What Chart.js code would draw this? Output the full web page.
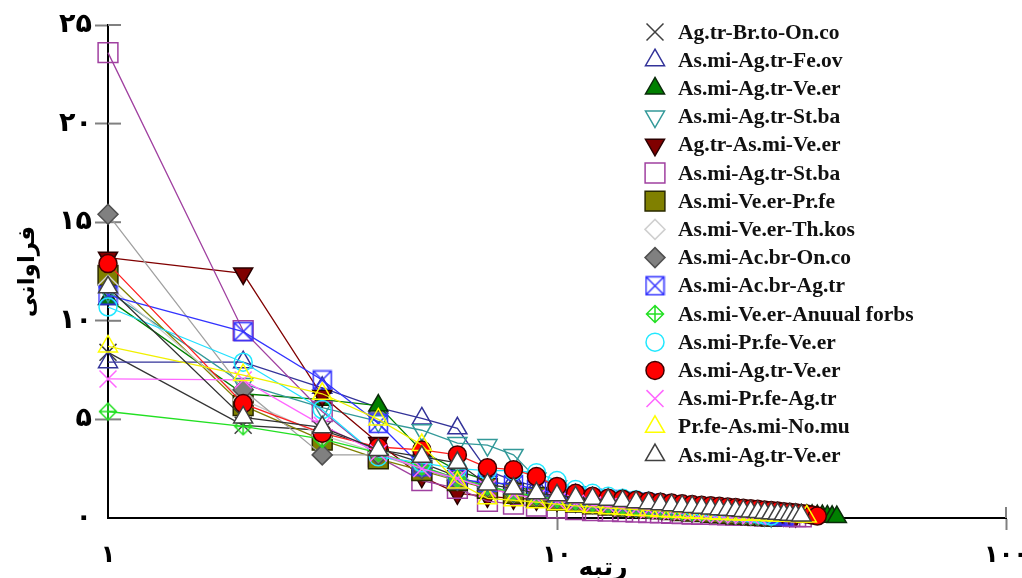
<!DOCTYPE html>
<html>
<head>
<meta charset="utf-8">
<script src="https://cdn.jsdelivr.net/npm/chart.js@4.4.1/dist/chart.umd.min.js"></script>
<style>
    html, body { margin: 0; padding: 0; background: #fff; }
    #wrap { width: 1022px; height: 578px; position: relative; }
</style>
</head>
<body>
<div id="wrap"><canvas id="rankChart"></canvas></div>
<script>
// series names, in legend order
const seriesNames = [
    'Ag.tr-Br.to-On.co',
    'As.mi-Ag.tr-Fe.ov',
    'As.mi-Ag.tr-Ve.er',
    'As.mi-Ag.tr-St.ba',
    'Ag.tr-As.mi-Ve.er',
    'As.mi-Ag.tr-St.ba',
    'As.mi-Ve.er-Pr.fe',
    'As.mi-Ve.er-Th.kos',
    'As.mi-Ac.br-On.co',
    'As.mi-Ac.br-Ag.tr',
    'As.mi-Ve.er-Anuual forbs',
    'As.mi-Pr.fe-Ve.er',
    'As.mi-Ag.tr-Ve.er',
    'As.mi-Pr.fe-Ag.tr',
    'Pr.fe-As.mi-No.mu',
    'As.mi-Ag.tr-Ve.er'
];

// abundance by rank (rank 1, 2, 3 ...)
const blackX = [8.4, 4.7, 4.45, 3.5, 2.8, 2.1, 1.6, 1.3, 1.1, 0.95, 0.85, 0.75, 0.68, 0.6, 0.55, 0.5, 0.45, 0.4, 0.36, 0.32, 0.28, 0.25, 0.22, 0.2, 0.18, 0.15, 0.12, 0.1];
const navyTri = [7.9, 7.9, 6.6, 5.6, 5.05, 4.55, 2.4, 1.9, 1.6, 1.35, 1.15, 1.0, 0.9, 0.82, 0.75, 0.68, 0.62, 0.56, 0.5, 0.45, 0.4, 0.36, 0.32, 0.28, 0.25, 0.22, 0.19, 0.16, 0.13, 0.1];
const greenTri = [11.1, 6.3, 6.0, 5.7, 3.4, 2.4, 1.9, 1.6, 1.35, 1.15, 1.0, 0.9, 0.82, 0.75, 0.7, 0.65, 0.6, 0.56, 0.52, 0.48, 0.45, 0.42, 0.39, 0.36, 0.33, 0.31, 0.29, 0.27, 0.25, 0.23, 0.21, 0.19, 0.17, 0.15, 0.13, 0.12, 0.11, 0.1, 0.1, 0.08, 0.06, 0.05];
const tealInv = [11.5, 6.8, 5.6, 4.9, 4.45, 3.8, 3.7, 3.2, 2.0, 1.6, 1.3, 1.1, 0.95, 0.85, 0.78, 0.7, 0.64, 0.58, 0.52, 0.47, 0.42, 0.38, 0.34, 0.3, 0.26, 0.23, 0.2, 0.17, 0.14, 0.1];
const darkRedInv = [13.2, 12.4, 6.2, 3.8, 2.1, 1.25, 1.1, 1.0, 0.95, 0.9, 0.85, 0.8, 0.76, 0.72, 0.68, 0.64, 0.6, 0.56, 0.52, 0.48, 0.45, 0.42, 0.39, 0.36, 0.33, 0.3, 0.27, 0.24, 0.21, 0.18, 0.16, 0.14, 0.12, 0.1];
const purpleSq = [23.6, 9.5, 5.4, 3.1, 1.9, 1.5, 0.85, 0.7, 0.6, 0.5, 0.42, 0.38, 0.35, 0.32, 0.3, 0.28, 0.26, 0.24, 0.22, 0.2, 0.19, 0.18, 0.17, 0.16, 0.15, 0.14, 0.13, 0.12, 0.11, 0.1, 0.1, 0.09, 0.08, 0.07, 0.06];
const oliveSq = [12.3, 5.7, 3.95, 3.0, 2.4, 1.9, 1.5, 1.25, 1.05, 0.9, 0.8, 0.72, 0.65, 0.6, 0.55, 0.5, 0.46, 0.42, 0.38, 0.35, 0.32, 0.29, 0.26, 0.23, 0.2, 0.18, 0.16, 0.14, 0.12, 0.1];
const lightDiamond = [11.8, 6.0, 4.2, 3.3, 2.6, 2.0, 1.6, 1.3, 1.1, 0.95, 0.85, 0.75, 0.68, 0.62, 0.56, 0.5, 0.46, 0.42, 0.38, 0.34, 0.3, 0.27, 0.24, 0.21, 0.19, 0.17, 0.15, 0.13, 0.11, 0.1];
const grayDiamond = [15.4, 6.5, 3.2, 3.2, 2.5, 1.9, 1.6, 1.3, 1.1, 0.95, 0.85, 0.76, 0.68, 0.62, 0.56, 0.5, 0.45, 0.41, 0.37, 0.33, 0.3, 0.27, 0.24, 0.21, 0.19, 0.17, 0.15, 0.13, 0.11, 0.1];
const blueBoxX = [11.3, 9.45, 7.0, 4.8, 2.6, 1.95, 1.8, 1.7, 1.45, 1.25, 1.1, 1.0, 0.92, 0.85, 0.8, 0.75, 0.7, 0.65, 0.6, 0.55, 0.5, 0.46, 0.42, 0.38, 0.34, 0.3, 0.27, 0.24, 0.2, 0.17, 0.14, 0.1];
const greenDiamondPlus = [5.4, 4.65, 4.0, 3.3, 2.6, 2.0, 1.6, 1.3, 1.1, 0.95, 0.85, 0.75, 0.67, 0.6, 0.54, 0.48, 0.43, 0.39, 0.35, 0.31, 0.28, 0.25, 0.22, 0.19, 0.16, 0.14, 0.12, 0.1];
const cyanCircle = [10.7, 7.9, 5.5, 3.1, 2.8, 2.5, 2.4, 2.4, 2.3, 1.9, 1.45, 1.25, 1.1, 1.0, 0.92, 0.85, 0.78, 0.72, 0.66, 0.6, 0.55, 0.5, 0.45, 0.4, 0.35, 0.3, 0.25, 0.2, 0.15, 0.1];
const redCircle = [12.9, 5.8, 4.3, 3.6, 3.45, 3.2, 2.55, 2.45, 2.1, 1.6, 1.25, 1.1, 1.0, 0.95, 0.9, 0.85, 0.8, 0.76, 0.72, 0.68, 0.65, 0.62, 0.59, 0.56, 0.53, 0.5, 0.47, 0.44, 0.41, 0.38, 0.35, 0.32, 0.29, 0.26, 0.23, 0.2, 0.15, 0.1];
const magentaX = [7.05, 7.0, 4.7, 3.3, 2.5, 2.0, 1.5, 1.2, 1.0, 0.85, 0.75, 0.66, 0.58, 0.52, 0.46, 0.41, 0.37, 0.33, 0.3, 0.27, 0.24, 0.21, 0.19, 0.17, 0.15, 0.13, 0.11, 0.1];
const yellowTri = [8.7, 7.25, 6.3, 5.0, 3.7, 1.8, 1.0, 0.9, 0.8, 0.7, 0.62, 0.56, 0.5, 0.46, 0.42, 0.39, 0.36, 0.33, 0.3, 0.28, 0.26, 0.24, 0.22, 0.2, 0.19, 0.18, 0.17, 0.16, 0.15, 0.14, 0.13, 0.12, 0.11, 0.1, 0.09, 0.08];
const whiteTri = [11.7, 5.1, 4.6, 3.45, 3.1, 2.8, 1.7, 1.5, 1.25, 1.15, 1.05, 0.98, 0.92, 0.86, 0.8, 0.75, 0.7, 0.65, 0.6, 0.56, 0.52, 0.48, 0.45, 0.42, 0.39, 0.36, 0.33, 0.3, 0.27, 0.24, 0.21, 0.19, 0.17, 0.15, 0.13];

const seriesValues = [blackX, navyTri, greenTri, tealInv, darkRedInv, purpleSq, oliveSq, lightDiamond,
    grayDiamond, blueBoxX, greenDiamondPlus, cyanCircle, redCircle, magentaX, yellowTri, whiteTri];

const yTicks = [0, 5, 10, 15, 20, 25];
const xTicks = [1, 10, 100];

const persianDigits = '۰۱۲۳۴۵۶۷۸۹';
function toPersian(n) {
    return String(n).replace(/[0-9]/g, d => persianDigits[+d]);
}

// composite markers that chart.js has no built-in style for
function makeMarker(kind, color, size) {
    const c = document.createElement('canvas');
    c.width = size;
    c.height = size;
    const g = c.getContext('2d');
    g.strokeStyle = color;
    g.lineWidth = 1.5;
    const m = size / 2;
    const h = size / 2 - 1.5;
    g.beginPath();
    if (kind === 'boxX') {
        g.rect(m - h, m - h, 2 * h, 2 * h);
        g.moveTo(m - h, m - h); g.lineTo(m + h, m + h);
        g.moveTo(m + h, m - h); g.lineTo(m - h, m + h);
    } else {
        g.moveTo(m, m - h); g.lineTo(m + h, m); g.lineTo(m, m + h); g.lineTo(m - h, m); g.closePath();
        g.moveTo(m, m - h); g.lineTo(m, m + h);
        g.moveTo(m - h, m); g.lineTo(m + h, m);
    }
    g.stroke();
    return c;
}

const seriesStyles = [
    { style: 'crossRot', line: '#333333', edge: '#404040', fill: 'transparent', r: 12 },
    { style: 'triangle', line: '#333399', edge: '#333399', fill: 'transparent', r: 11 },
    { style: 'triangle', line: '#008000', edge: '#0a2a0a', fill: '#008000', r: 11 },
    { style: 'triangle', line: '#339999', edge: '#339999', fill: 'transparent', r: 11, rot: 180 },
    { style: 'triangle', line: '#800000', edge: '#2a0000', fill: '#800000', r: 11, rot: 180 },
    { style: 'rect', line: '#a040a0', edge: '#a040a0', fill: 'transparent', r: 14 },
    { style: 'rect', line: '#808000', edge: '#2a2a00', fill: '#808000', r: 14 },
    { style: 'rectRot', line: '#c8c8c8', edge: '#d0d0d0', fill: 'transparent', r: 10 },
    { style: 'rectRot', line: '#a0a0a0', edge: '#505050', fill: '#808080', r: 10 },
    { style: makeMarker('boxX', '#3333ff', 21), line: '#3333ff', edge: '#3333ff', fill: 'transparent', r: 10 },
    { style: makeMarker('diamondPlus', '#22e022', 20), line: '#22e022', edge: '#22e022', fill: 'transparent', r: 10 },
    { style: 'circle', line: '#22e0ff', edge: '#22e8ff', fill: 'transparent', r: 9 },
    { style: 'circle', line: '#ff2020', edge: '#400000', fill: '#ff0000', r: 9 },
    { style: 'crossRot', line: '#ff66ff', edge: '#ff66ff', fill: 'transparent', r: 12 },
    { style: 'triangle', line: '#f0f000', edge: '#ffff00', fill: 'transparent', r: 11 },
    { style: 'triangle', line: '#303030', edge: '#404040', fill: '#ffffff', r: 11 }
];

const datasets = seriesValues.map((vals, i) => {
    const s = seriesStyles[i];
    return {
        label: seriesNames[i],
        data: vals.map((v, k) => ({ x: k + 1, y: v })),
        borderColor: s.line,
        borderWidth: 1.3,
        pointStyle: s.style,
        pointRotation: s.rot || 0,
        pointRadius: s.r,
        pointBorderColor: s.edge,
        pointBackgroundColor: s.fill,
        pointBorderWidth: 1.5,
        tension: 0,
        fill: false,
        clip: false,
        order: seriesValues.length - i
    };
});

// tick marks that also reach into the plot area
const innerTicks = {
    id: 'innerTicks',
    beforeDatasetsDraw(chart) {
        const { ctx, scales: { x, y } } = chart;
        ctx.save();
        ctx.strokeStyle = '#808080';
        ctx.lineWidth = 2;
        y.ticks.forEach(t => {
            if (t.value === 0) return;
            const py = y.getPixelForValue(t.value);
            ctx.beginPath();
            ctx.moveTo(y.right, py);
            ctx.lineTo(y.right + 13, py);
            ctx.stroke();
        });
        x.ticks.forEach(t => {
            if (t.value === 1) return;
            const px = x.getPixelForValue(t.value);
            ctx.beginPath();
            ctx.moveTo(px, x.top);
            ctx.lineTo(px, x.top - 11);
            ctx.stroke();
        });
        ctx.restore();
    }
};

// legend in the top right of the plot, plus the x axis title
const sideLegend = {
    id: 'sideLegend',
    afterDraw(chart) {
        const ctx = chart.ctx;
        ctx.save();
        chart.data.datasets.forEach((ds, i) => {
            const y = 32 + i * 28.2;
            ctx.fillStyle = ds.pointBackgroundColor;
            ctx.strokeStyle = ds.pointBorderColor;
            ctx.lineWidth = 1.5;
            Chart.helpers.drawPoint(ctx, {
                pointStyle: ds.pointStyle,
                rotation: ds.pointRotation,
                radius: ds.pointRadius,
                borderWidth: 1.5
            }, 655, y);
            ctx.fillStyle = '#111111';
            ctx.font = 'bold 21.5px "Liberation Serif"';
            ctx.textAlign = 'left';
            ctx.textBaseline = 'middle';
            ctx.fillText(ds.label, 678, y + 1);
        });

        const xs = chart.scales.x;
        ctx.fillStyle = '#000';
        ctx.font = 'bold 25px "DejaVu Sans"';
        ctx.textAlign = 'center';
        ctx.textBaseline = 'alphabetic';
        ctx.fillText('رتبه', xs.getPixelForValue(10) + 46, 575);
        ctx.restore();
    }
};

new Chart(document.getElementById('rankChart'), {
    type: 'line',
    data: { datasets },
    plugins: [innerTicks, sideLegend],
    options: {
        responsive: true,
        maintainAspectRatio: false,
        animation: false,
        layout: { padding: { left: 0, top: 25, right: 16, bottom: 0 } },
        plugins: {
            legend: { display: false },
            tooltip: { enabled: false }
        },
        scales: {
            x: {
                type: 'logarithmic',
                min: 1,
                max: 100,
                afterBuildTicks: scale => { scale.ticks = xTicks.map(v => ({ value: v })); },
                afterFit: scale => {
                    scale.height = 60;
                    scale.paddingLeft = 0;
                    scale.paddingRight = 0;
                },
                border: { display: true, color: '#000', width: 2 },
                grid: {
                    drawOnChartArea: false,
                    tickLength: 12,
                    tickWidth: 2,
                    tickColor: c => (c.tick && c.tick.value === 1) ? 'rgba(0,0,0,0)' : '#808080'
                },
                ticks: {
                    color: '#000',
                    font: { family: 'DejaVu Sans', size: 24, weight: 'bold' },
                    padding: 11,
                    maxRotation: 0,
                    autoSkip: false,
                    callback: v => toPersian(v)
                }
            },
            y: {
                min: 0,
                max: 25,
                afterBuildTicks: scale => { scale.ticks = yTicks.map(v => ({ value: v })); },
                afterFit: scale => { scale.width = 108; },
                border: { display: true, color: '#000', width: 2 },
                grid: {
                    drawOnChartArea: false,
                    tickLength: 13,
                    tickWidth: 2,
                    tickColor: c => (c.tick && c.tick.value === 0) ? 'rgba(0,0,0,0)' : '#808080'
                },
                ticks: {
                    color: '#000',
                    font: { family: 'DejaVu Sans', size: 27, weight: 'bold' },
                    padding: 3,
                    callback: v => toPersian(v)
                },
                title: {
                    display: true,
                    text: 'فراوانی',
                    color: '#000',
                    font: { family: 'DejaVu Sans', size: 23, weight: 'bold' },
                    padding: { top: 14, bottom: 0 }
                }
            }
        }
    }
});
</script>
</body>
</html>
